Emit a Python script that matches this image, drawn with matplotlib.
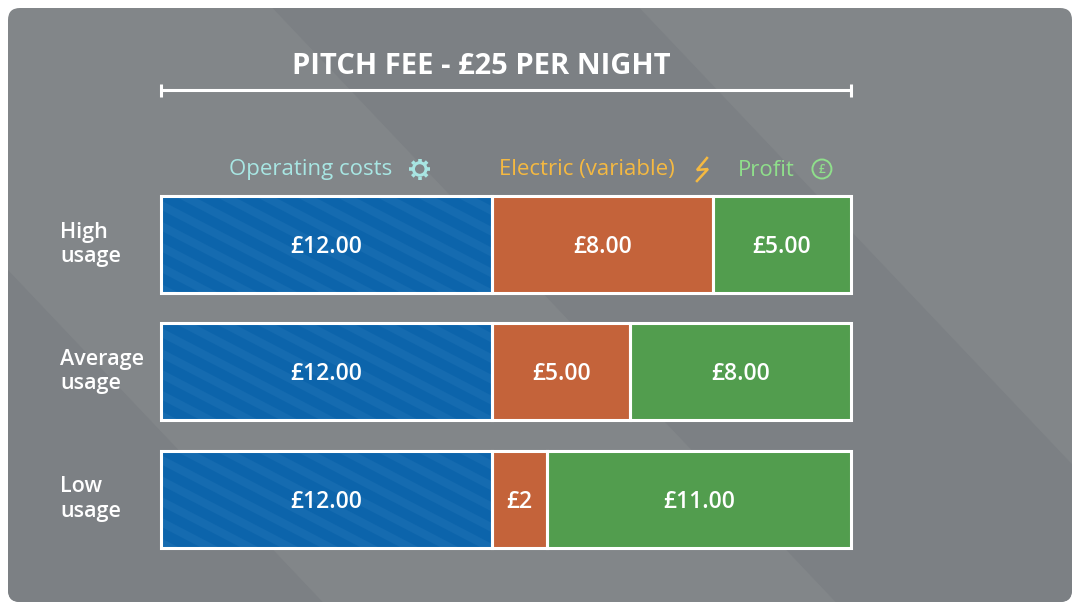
import matplotlib
matplotlib.use("Agg")
import numpy as np
import matplotlib.pyplot as plt
from matplotlib.patches import FancyBboxPatch, Polygon, Circle
from matplotlib import transforms

plt.rcParams['font.family'] = ['Open Sans', 'DejaVu Sans']

# Data
categories = ["High\nusage", "Average\nusage", "Low\nusage"]
operating = [12, 12, 12]
electric = [8, 5, 2]
profit = [5, 8, 11]
pitch_fee = 25
series_names = ["Operating costs", "Electric (variable)", "Profit"]

# Styling
W, H, DPI = 1080, 610, 100
PANEL_LIGHT = "#828689"
PANEL_DARK = "#7C8084"
BAR_COLORS = ["#0C64AB", "#C4633A", "#529D4E"]
STRIPE_COLOR = "#156BB0"
LEGEND_COLORS = ["#A8E6E3", "#F5B941", "#8FDF8B"]

fig = plt.figure(figsize=(W / DPI, H / DPI), dpi=DPI)
fig.patch.set_facecolor("white")

# background axes in pixel coordinates (y downwards)
bg = fig.add_axes([0, 0, 1, 1])
bg.set_xlim(0, W)
bg.set_ylim(H, 0)
bg.axis("off")

panel = FancyBboxPatch((8, 8), 1064, 594, boxstyle="round,pad=0,rounding_size=12",
                       facecolor=PANEL_LIGHT, edgecolor="none")
bg.add_patch(panel)

# subtle diagonal bands on the panel
def band(u0, u1, color):
    s = 1.055
    pts = [(u0, 0), (u1, 0), (u1 + H / s, H), (u0 + H / s, H)]
    poly = Polygon(pts, closed=True, facecolor=color, edgecolor="none")
    bg.add_patch(poly)
    poly.set_clip_path(panel)

band(-2000, -248, PANEL_DARK)
band(265, 632, PANEL_DARK)

# bar axes: x in pounds, one row per usage level
row_step = 127.25
top = 244.5 - row_step / 2
ax = fig.add_axes([161 / W, 1 - (top + 3 * row_step) / H, 690 / W, 3 * row_step / H])
ax.set_xlim(0, pitch_fee)
ax.set_ylim(2.5, -0.5)
ax.axis("off")

y = np.arange(len(categories))
bar_h = 97 / row_step
series = [np.array(operating), np.array(electric), np.array(profit)]
lefts = [np.zeros(3), np.array(operating), np.array(operating) + np.array(electric)]

face_bars = []
for vals, left, color in zip(series, lefts, BAR_COLORS):
    bars = ax.barh(y, vals, left=left, height=bar_h, color=color,
                   linewidth=0, clip_on=False, zorder=2)
    face_bars.append(bars)

fig.canvas.draw()
renderer = fig.canvas.get_renderer()

# diagonal stripes on the operating cost bars
slope = 0.52
period, stripe_w = 40, 18
for patch in face_bars[0]:
    bb = patch.get_window_extent(renderer)
    h = bb.y1 - bb.y0
    for k in range(-10, 30):
        x0 = bb.x0 - h / slope + k * period
        pts = [(x0, bb.y1), (x0 + stripe_w, bb.y1),
               (x0 + stripe_w + h / slope, bb.y0), (x0 + h / slope, bb.y0)]
        st = Polygon(pts, closed=True, facecolor=STRIPE_COLOR, edgecolor="none",
                     transform=transforms.IdentityTransform(), zorder=3)
        ax.add_patch(st)
        st.set_clip_path(patch)

# white outlines
for vals, left in zip(series, lefts):
    ax.barh(y, vals, left=left, height=bar_h, facecolor="none",
            edgecolor="white", linewidth=2.2, clip_on=False, zorder=4)

# value labels
for vals, left in zip(series, lefts):
    for yi, v, l in zip(y, vals, left):
        label = f"£{v:.2f}" if v >= 3 else f"£{v:g}"
        ax.text(l + v / 2, yi + 0.02, label, ha="center", va="center",
                fontsize=16.5, fontweight="semibold", color="white", zorder=5)

# row labels
row_tr = transforms.blended_transform_factory(bg.transData, ax.transData)
for yi, cat in zip(y, categories):
    ax.text(60, yi, cat, transform=row_tr, ha="left", va="center",
            fontsize=15.5, fontweight="semibold", color="white", linespacing=1.2)

# pitch fee bracket and title
br_tr = transforms.blended_transform_factory(ax.transData, bg.transData)
ax.plot([0, pitch_fee], [90, 90], color="white", lw=2.2, transform=br_tr,
        clip_on=False, solid_capstyle="butt")
for xe in [0, pitch_fee]:
    ax.plot([xe, xe], [83.5, 97], color="white", lw=2.2, transform=br_tr,
            clip_on=False, solid_capstyle="butt")
bg.text(481, 66, f"PITCH FEE - £{pitch_fee} PER NIGHT", ha="center", va="center",
        fontsize=21, fontweight="bold", color="white")

# legend centred over the top row segments
px_per_unit = 690 / pitch_fee
legend_y = 170
icon_gap = 27
for i, (name, color) in enumerate(zip(series_names, LEGEND_COLORS)):
    centre = 161 + (lefts[i][0] + series[i][0] / 2) * px_per_unit
    t = bg.text(centre - icon_gap / 2 - 2, legend_y, name, ha="center", va="center",
                fontsize=16, color=color)
    bb = t.get_window_extent(renderer)
    ix = bb.x1 + icon_gap  # display x equals pixel x here
    iy = legend_y - 1
    if i == 0:
        # gear
        bg.add_patch(Circle((ix, iy), 6.3, fill=False, edgecolor=color, lw=2.2))
        for a in np.arange(8) * np.pi / 4:
            bg.plot([ix + 7.5 * np.cos(a), ix + 10.5 * np.cos(a)],
                    [iy + 7.5 * np.sin(a), iy + 10.5 * np.sin(a)],
                    color=color, lw=2.6, solid_capstyle="butt")
    elif i == 1:
        # lightning bolt
        bg.plot([ix + 5, ix - 5, ix + 6, ix - 5],
                [iy - 11, iy + 1, iy, iy + 12],
                color=color, lw=1.8, solid_joinstyle="miter")
    else:
        # pound coin
        bg.add_patch(Circle((ix, iy), 9.5, fill=False, edgecolor=color, lw=1.4))
        bg.text(ix, iy + 0.5, "£", ha="center", va="center", fontsize=8.5,
                color=color, fontweight="semibold")

fig.savefig("out.png", dpi=DPI, facecolor=fig.get_facecolor())
